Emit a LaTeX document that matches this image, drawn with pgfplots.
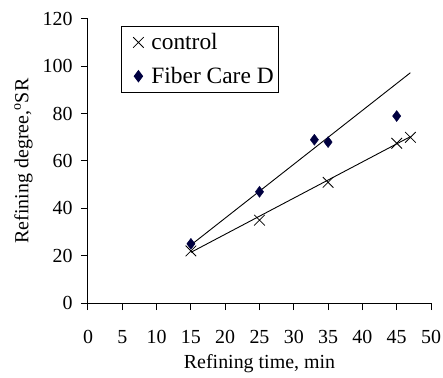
\documentclass[border=0pt]{standalone}
\usepackage{pgfplots}
\pgfplotsset{compat=1.18}
\usepackage{fontspec}
\setmainfont{Liberation Serif}
\definecolor{navy}{HTML}{000040}
\pgfplotsset{mylegimg/.style={legend image code/.code={\path[draw=none,fill=none] (0bp,0bp) (25bp,0bp);
      \draw[##1] plot coordinates {(13bp,0bp)};}}}
\begin{document}
\begin{tikzpicture}
\begin{axis}[
  at={(0,0)}, anchor=origin,
  scale only axis, width=343bp, height=284bp,
  xmin=0, xmax=50, ymin=0, ymax=120,
  axis x line*=bottom, axis y line*=left,
  axis line style={line width=1bp, -},
  xtick={0,5,...,50}, ytick={0,20,...,120},
  tick align=outside, major tick length=7bp,
  tick style={line width=1bp, black},
  /pgf/number format/assume math mode=true,
  tick label style={font=\fontsize{20}{24}\selectfont},
  label style={font=\fontsize{20}{24}\selectfont},
  xticklabel style={yshift=-17bp},
  yticklabel style={xshift=-5bp},
  xlabel={Refining time, min},
  ylabel={Refining degree,$^{\mathrm{o}}$SR},
  xlabel style={yshift=-4bp},
  ylabel style={yshift=3bp},
  clip=false,
  legend style={at={(axis description cs:0.096,0.975)}, anchor=north west,
    draw=black, line width=1bp, font=\fontsize{23.5}{26}\selectfont,
    row sep=14bp, inner xsep=4bp, inner ysep=6bp,
    nodes={inner xsep=1bp, inner ysep=1bp}},
  legend cell align=left,
]
\addplot[only marks, mylegimg, mark=x, mark size=7.5bp, black, line width=0.8bp]
  coordinates {(15,22) (25,35) (35,51) (45,67.5) (47,70)};
\addlegendentry{control}
\addplot[only marks, mylegimg, mark=diamond*, mark size=5.5bp, navy, mark options={fill=navy, draw=navy}]
  coordinates {(15,25) (25,47) (33,69) (35,68) (45,79)};
\addlegendentry{Fiber Care D}
\addplot[black, line width=0.9bp, forget plot] coordinates {(15,24.5) (47,97.3)};
\addplot[black, line width=0.9bp, forget plot] coordinates {(15,21.4) (47,70.3)};
\end{axis}
\pgfresetboundingbox
\path (-88bp,-75bp) rectangle (355bp,303bp);
\end{tikzpicture}
\end{document}
